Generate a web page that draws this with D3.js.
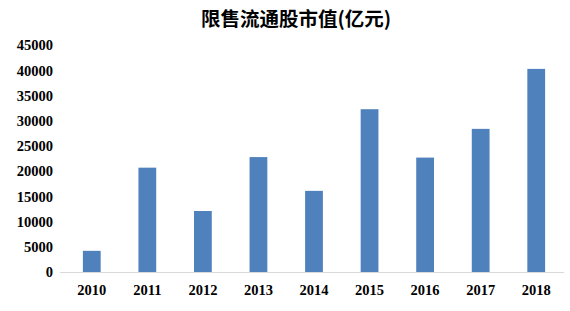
<!DOCTYPE html>
<html>
<head>
<meta charset="utf-8">
<script src="https://cdn.jsdelivr.net/npm/d3@7"></script>
<style>
  body { margin: 0; background: #fff; }
  svg { display: block; }
</style>
</head>
<body>
<div id="chart"></div>
<script>
// data
var years = ["2010", "2011", "2012", "2013", "2014", "2015", "2016", "2017", "2018"];
var values = [4200, 20700, 12100, 22800, 16100, 32300, 22700, 28400, 40300];
var yTicks = [0, 5000, 10000, 15000, 20000, 25000, 30000, 35000, 40000, 45000];
var title = "限售流通股市值(亿元)";

var width = 570, height = 311;
var svg = d3.select("#chart").append("svg")
    .attr("width", width)
    .attr("height", height);

var x = d3.scaleBand()
    .domain(years)
    .range([64, 564])
    .paddingInner(0.68)
    .paddingOuter(0.34);

var y = d3.scaleLinear()
    .domain([0, 45000])
    .range([272, 45.2]);

// title
svg.append("text")
    .attr("x", 296)
    .attr("y", 26)
    .attr("text-anchor", "middle")
    .style("font-family", "'Noto Sans CJK SC', sans-serif")
    .style("font-weight", "bold")
    .style("font-size", "19.5px")
    .style("fill", "#000")
    .text(title);

// y axis labels (no line, no ticks)
var yAxis = svg.append("g")
    .attr("transform", "translate(53,0)")
    .call(d3.axisLeft(y).tickValues(yTicks).tickSize(0).tickPadding(0).tickFormat(d3.format("d")));
yAxis.select(".domain").remove();
yAxis.selectAll("text")
    .style("font-family", "'Liberation Serif', 'Times New Roman', serif")
    .style("font-weight", "bold")
    .style("font-size", "14.5px")
    .style("fill", "#000");

// bars
svg.selectAll("rect.bar")
    .data(values)
    .enter().append("rect")
    .attr("class", "bar")
    .attr("x", function(d, i) { return x(years[i]); })
    .attr("y", function(d) { return y(d); })
    .attr("width", x.bandwidth())
    .attr("height", function(d) { return y(0) - y(d); })
    .style("fill", "#4F81BD");

// x axis
var xAxis = svg.append("g")
    .attr("transform", "translate(0," + y(0) + ")")
    .call(d3.axisBottom(x).tickSize(0).tickPadding(13));
xAxis.select(".domain")
    .attr("d", "M" + (x.range()[0] - 4) + ",0.5H" + x.range()[1])
    .style("stroke", "#D9D9D9")
    .style("stroke-width", 1);
xAxis.selectAll("text")
    .style("font-family", "'Liberation Serif', 'Times New Roman', serif")
    .style("font-weight", "bold")
    .style("font-size", "14.5px")
    .style("fill", "#000");
</script>
</body>
</html>
